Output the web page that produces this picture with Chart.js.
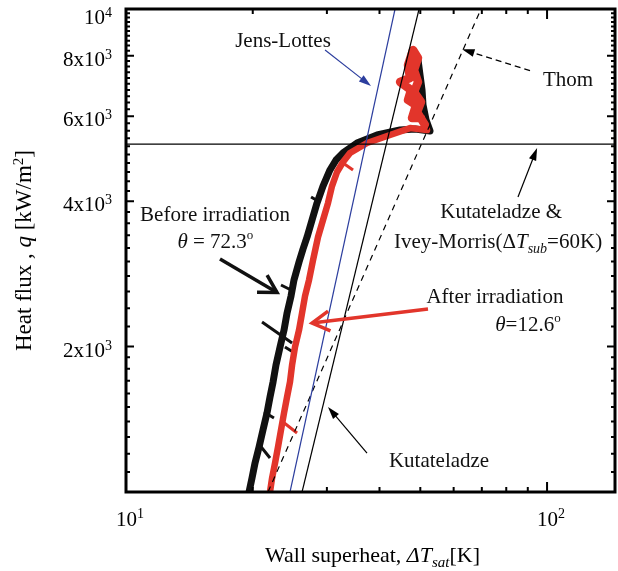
<!DOCTYPE html>
<html>
<head>
<meta charset="utf-8">
<script src="https://cdn.jsdelivr.net/npm/chart.js@4.4.0/dist/chart.umd.min.js"></script>
<style>
  body { margin: 0; background: #fff; }
</style>
</head>
<body>
<canvas id="boilingChart" width="618" height="571"></canvas>
<script>
// Boiling curves: wall superheat (K) vs heat flux (kW/m2)
const beforeT = [19.6, 19.92, 20.25, 20.7, 21.15, 21.62, 21.98, 22.35, 22.71, 23.22, 23.73, 24.13, 24.66, 25.06, 25.76, 26.33, 26.92, 27.66, 28.42, 29.37, 30.51, 31.54, 32.76, 35.37, 39.47, 44.76, 48.6, 52.73, 51.6, 50.75, 50.47, 49.92, 49.38];
const beforeQ = [1000, 1069, 1148, 1239, 1344, 1457, 1573, 1690, 1832, 1996, 2164, 2348, 2546, 2748, 2994, 3185, 3373, 3657, 3965, 4299, 4642, 4868, 5034, 5279, 5484, 5616, 5644, 5589, 5891, 6327, 6797, 7302, 7844];

const afterT = [21.98, 22.23, 22.59, 22.96, 23.34, 23.73, 24.13, 24.52, 24.8, 25.2, 25.76, 26.19, 26.62, 27.21, 27.81, 28.58, 29.37, 30.18, 30.85, 31.71, 32.76, 34.04, 37.36, 42.38, 47.27, 51.88,
  50.2, 47.79, 48.85, 46.75, 47.53, 44.76, 47.27, 46.75, 48.05, 49.38, 48.32, 49.38, 48.32, 50.2, 49.11, 51.3];
const afterQ = [1000, 1069, 1148, 1239, 1344, 1457, 1573, 1690, 1832, 1996, 2164, 2348, 2546, 2748, 3021, 3373, 3657, 3965, 4299, 4597, 4822, 5034, 5279, 5484, 5669, 5616,
  5947, 5947, 6327, 6480, 6797, 7062, 7196, 7657, 8226, 7917, 7476, 7062, 6733, 6419, 6118, 5752];

// short scatter spikes sticking out of the curves (null = break)
const beforeSpikeT = [21.04, 24.8, null, 23.34, 24.93, null, 23.85, 24.93, null, 20.58, 21.98, null, 21.27, 22.46, null, 27.51, 28.58];
const beforeSpikeQ = [2249, 2035, null, 2683, 2607, null, 1996, 1950, null, 1263, 1176, null, 1464, 1423, null, 4082, 4004];
const afterSpikeT = [23.6, 25.48, null, 32.76, 34.61];
const afterSpikeQ = [1396, 1325, null, 4800, 4642];

// correlations
const jensT = [24.52, 43.55];
const jensQ = [1000, 10000];
const kutT = [26.19, 49.66];
const kutQ = [1000, 10000];
const thomT = [21.74, 69.68];
const thomQ = [1000, 10000];
const chfT = [10, 145];
const chfQ = [5250, 5250];

// ticks
const xMajorTicks = [10, 100];
const xMinorTicks = [20, 30, 40, 50, 60, 70, 80, 90];
const xTickMantissa = ['10', '10'];
const xTickExp = ['1', '2'];
const yMajorTicks = [2000, 4000, 6000, 8000, 10000];
const yMinorTicks = [1100, 1200, 1300, 1400, 1500, 1600, 1700, 1800, 1900,
  2200, 2400, 2600, 2800, 3000, 3200, 3400, 3600, 3800,
  4200, 4400, 4600, 4800, 5000, 5200, 5400, 5600, 5800,
  6200, 6400, 6600, 6800, 7000, 7200, 7400, 7600, 7800,
  8200, 8400, 8600, 8800, 9000, 9200, 9400, 9600, 9800];
const yTickMantissa = ['2x10', '4x10', '6x10', '8x10', '10'];
const yTickExp = ['3', '3', '3', '3', '4'];

const FONT = "'Liberation Serif', 'Times New Roman', serif";
const RED = '#e2352b';
const BLUE = '#2c3e9e';

function pts(xs, ys) {
  return xs.map((x, i) => ({ x: x, y: ys[i] }));
}

// text piece helper
function seg(t, opt) {
  return Object.assign({ t: t, size: 21, italic: false, dy: 0 }, opt || {});
}

function drawRich(ctx, parts, x, y, align) {
  let w = 0;
  parts.forEach(p => {
    ctx.font = (p.italic ? 'italic ' : '') + p.size + 'px ' + FONT;
    p.w = ctx.measureText(p.t).width;
    w += p.w;
  });
  let cx = align === 'center' ? x - w / 2 : (align === 'right' ? x - w : x);
  ctx.textAlign = 'left';
  ctx.textBaseline = 'alphabetic';
  parts.forEach(p => {
    ctx.font = (p.italic ? 'italic ' : '') + p.size + 'px ' + FONT;
    ctx.fillText(p.t, cx, y + p.dy);
    cx += p.w;
  });
}

function drawArrow(ctx, x1, y1, x2, y2, a) {
  const ang = Math.atan2(y2 - y1, x2 - x1);
  ctx.save();
  ctx.strokeStyle = a.color;
  ctx.fillStyle = a.color;
  ctx.lineWidth = a.width;
  ctx.setLineDash(a.dash || []);
  const back = a.head === 'filled' ? a.len * 0.8 : 0;
  ctx.beginPath();
  ctx.moveTo(x1, y1);
  ctx.lineTo(x2 - back * Math.cos(ang), y2 - back * Math.sin(ang));
  ctx.stroke();
  ctx.setLineDash([]);
  const h1x = x2 - a.len * Math.cos(ang - a.spread), h1y = y2 - a.len * Math.sin(ang - a.spread);
  const h2x = x2 - a.len * Math.cos(ang + a.spread), h2y = y2 - a.len * Math.sin(ang + a.spread);
  ctx.beginPath();
  if (a.head === 'filled') {
    ctx.moveTo(x2, y2);
    ctx.lineTo(h1x, h1y);
    ctx.lineTo(h2x, h2y);
    ctx.closePath();
    ctx.fill();
  } else {
    ctx.lineJoin = 'miter';
    ctx.moveTo(h1x, h1y);
    ctx.lineTo(x2, y2);
    ctx.lineTo(h2x, h2y);
    ctx.stroke();
  }
  ctx.restore();
}

// annotation texts, anchored in data coordinates (centre, baseline)
const notes = [
  { x: 23.6, y: 8344, parts: [seg('Jens-Lottes')] },
  { x: 112.2, y: 6927, parts: [seg('Thom')] },
  { x: 77.8, y: 3692, parts: [seg('Kutateladze &')] },
  { x: 76.5, y: 3201, parts: [seg('Ivey-Morris(\u0394'), seg('T', { italic: true }), seg('sub', { italic: true, size: 14, dy: 5 }), seg('=60K)')] },
  { x: 16.27, y: 3640, parts: [seg('Before irradiation')] },
  { x: 16.3, y: 3201, parts: [seg('\u03b8', { italic: true }), seg(' = 72.3'), seg('o', { size: 13, dy: -9 })] },
  { x: 75.2, y: 2462, parts: [seg('After irradiation')] },
  { x: 90.1, y: 2154, parts: [seg('\u03b8', { italic: true }), seg('=12.6'), seg('o', { size: 13, dy: -9 })] },
  { x: 55.4, y: 1127, parts: [seg('Kutateladze')] }
];

const arrows = [
  { from: [29.7, 8226], to: [38.19, 6927], color: BLUE, width: 1.2, head: 'filled', len: 13, spread: 0.3 },
  { from: [91.1, 7452], to: [62.84, 8253], color: '#000', width: 1.2, dash: [6, 4], head: 'filled', len: 13, spread: 0.3 },
  { from: [85.3, 4082], to: [94.7, 5154], color: '#000', width: 1.2, head: 'filled', len: 13, spread: 0.3 },
  { from: [16.72, 3036], to: [22.84, 2588], color: '#111', width: 3.5, head: 'open', len: 20, spread: 0.52 },
  { from: [52.15, 2392], to: [27.66, 2238], color: RED, width: 3.5, head: 'open', len: 20, spread: 0.52 },
  { from: [37.36, 1204], to: [30.18, 1500], color: '#000', width: 1.2, head: 'filled', len: 13, spread: 0.3 }
];

const decorPlugin = {
  id: 'decor',
  afterDraw(chart) {
    const ctx = chart.ctx;
    const xs = chart.scales.x;
    const ys = chart.scales.y;
    const { left, right, top, bottom } = chart.chartArea;
    ctx.save();

    // frame
    ctx.strokeStyle = '#000';
    ctx.lineWidth = 3;
    ctx.strokeRect(left, top, right - left, bottom - top);

    // inward ticks on all four sides
    ctx.lineWidth = 2;
    ctx.beginPath();
    const yTick = (v, len) => {
      const py = ys.getPixelForValue(v);
      ctx.moveTo(left, py); ctx.lineTo(left + len, py);
      ctx.moveTo(right, py); ctx.lineTo(right - len, py);
    };
    const xTick = (v, len) => {
      const px = xs.getPixelForValue(v);
      ctx.moveTo(px, bottom); ctx.lineTo(px, bottom - len);
      ctx.moveTo(px, top); ctx.lineTo(px, top + len);
    };
    yMinorTicks.forEach(v => yTick(v, 4));
    yMajorTicks.forEach(v => yTick(v, 8));
    xMinorTicks.forEach(v => xTick(v, 5));
    xMajorTicks.forEach(v => xTick(v, 10));
    ctx.stroke();

    // tick labels
    ctx.fillStyle = '#000';
    yMajorTicks.forEach((v, i) => {
      const py = Math.max(ys.getPixelForValue(v) + 10, top + 15);
      drawRich(ctx, [seg(yTickMantissa[i]), seg(yTickExp[i], { size: 14, dy: -7 })], left - 14, py, 'right');
    });
    xMajorTicks.forEach((v, i) => {
      const px = xs.getPixelForValue(v);
      drawRich(ctx, [seg(xTickMantissa[i]), seg(xTickExp[i], { size: 14, dy: -8 })], px - 10, bottom + 34, 'left');
    });

    // axis titles
    drawRich(ctx, [seg('Wall superheat, ', { size: 22 }), seg('\u0394T', { size: 22, italic: true }),
      seg('sat', { size: 15, italic: true, dy: 5 }), seg('[K]', { size: 22 })],
      (left + right) / 2 + 2, bottom + 70, 'center');
    ctx.save();
    ctx.translate(left - 95, (top + bottom) / 2);
    ctx.rotate(-Math.PI / 2);
    drawRich(ctx, [seg('Heat flux , ', { size: 23 }), seg('q', { size: 23, italic: true }),
      seg(' [kW/m', { size: 23 }), seg('2', { size: 15, dy: -8 }), seg(']', { size: 23 })], 0, 0, 'center');
    ctx.restore();

    // annotations
    arrows.forEach(a => {
      drawArrow(ctx, xs.getPixelForValue(a.from[0]), ys.getPixelForValue(a.from[1]),
        xs.getPixelForValue(a.to[0]), ys.getPixelForValue(a.to[1]), a);
    });
    ctx.fillStyle = '#111';
    notes.forEach(n => {
      drawRich(ctx, n.parts, xs.getPixelForValue(n.x), ys.getPixelForValue(n.y), 'center');
    });
    ctx.restore();
  }
};

const lineDefaults = { pointRadius: 0, fill: false, tension: 0, spanGaps: false };

new Chart(document.getElementById('boilingChart'), {
  type: 'line',
  data: {
    datasets: [
      Object.assign({ label: 'Kutateladze & Ivey-Morris', data: pts(chfT, chfQ), borderColor: '#000', borderWidth: 1.3, order: 0 }, lineDefaults),
      Object.assign({ label: 'Kutateladze', data: pts(kutT, kutQ), borderColor: '#000', borderWidth: 1.2, order: 1 }, lineDefaults),
      Object.assign({ label: 'Jens-Lottes', data: pts(jensT, jensQ), borderColor: BLUE, borderWidth: 1.2, order: 2 }, lineDefaults),
      Object.assign({ label: 'Thom', data: pts(thomT, thomQ), borderColor: '#000', borderWidth: 1.2, borderDash: [6, 5], order: 3 }, lineDefaults),
      Object.assign({
        label: 'After irradiation', data: pts(afterT, afterQ), borderColor: RED, borderWidth: 6.5,
        borderJoinStyle: 'round', borderCapStyle: 'round', order: 5,
        // the top column of the red trace is a wider blob
        segment: { borderWidth: c => (c.p0DataIndex >= 26 ? 8.5 : undefined) }
      }, lineDefaults),
      Object.assign({ label: 'After spikes', data: pts(afterSpikeT, afterSpikeQ), borderColor: RED, borderWidth: 3, order: 6 }, lineDefaults),
      Object.assign({ label: 'Before spikes', data: pts(beforeSpikeT, beforeSpikeQ), borderColor: '#111', borderWidth: 3, order: 7 }, lineDefaults),
      Object.assign({ label: 'Before irradiation', data: pts(beforeT, beforeQ), borderColor: '#111', borderWidth: 7, borderJoinStyle: 'round', borderCapStyle: 'round', order: 8 }, lineDefaults)
    ]
  },
  options: {
    responsive: false,
    devicePixelRatio: 1,
    animation: false,
    layout: { padding: { left: 126, right: 3, top: 9, bottom: 79 } },
    scales: {
      x: { type: 'logarithmic', min: 10, max: 145, display: false },
      y: { type: 'logarithmic', min: 1000, max: 10000, display: false }
    },
    plugins: {
      legend: { display: false },
      tooltip: { enabled: false }
    }
  },
  plugins: [decorPlugin]
});
</script>
</body>
</html>
